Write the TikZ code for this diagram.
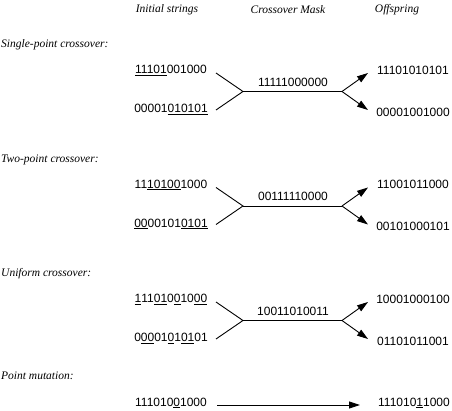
\documentclass[tikz,border=0pt]{standalone}
\usepackage{fontspec}
\setmainfont{Liberation Serif}
\newfontfamily\digitfont{Liberation Sans}
\usetikzlibrary{arrows.meta}
\newcommand\un[1]{\underline{#1}}
\begin{document}
\begin{tikzpicture}[x=1pt,y=-1pt,
  head/.style={font=\fontsize{11.5}{13}\selectfont\itshape, inner sep=0pt},
  lab/.style={font=\fontsize{11.5}{13}\selectfont\itshape, anchor=west, inner sep=0pt},
  bits/.style={font=\fontsize{12}{14}\digitfont, inner sep=0pt},
  conn/.style={line width=0.9pt, black},
  arr/.style={line width=0.9pt, black, -{Triangle[length=11pt,width=7pt]}}]
\useasboundingbox (0,0) rectangle (452,411);
% headers
\node[head] (h1) at (167,10) {Initial strings};
\node[head] (h2) at (288,10) {Crossover Mask};
\node[head] (h3) at (397,10) {Offspring};
% section labels
\node[lab] (l1) at (1,45) {Single-point crossover:};
\node[lab] (l2) at (1,160) {Two-point crossover:};
\node[lab] (l3) at (1,274) {Uniform crossover:};
\node[lab] (l4) at (1,376) {Point mutation:};
% ---------- single point
\node[bits] (s1a) at (171,70.5) {\un{11101}001000};
\node[bits] (s1b) at (171,109.5) {00001\un{010101}};
\node[bits] (m1) at (293,82) {11111000000};
\node[bits] (o1a) at (413,70) {11101010101};
\node[bits] (o1b) at (413,112) {00001001000};
\coordinate (a1) at (216,73);
\coordinate (b1) at (216,110);
\coordinate (j1) at (243,91.5);
\coordinate (k1) at (342,91.5);
\coordinate (p1) at (368,73);
\coordinate (q1) at (368,110);
\draw[conn] (a1) -- (j1) -- (b1);
\draw[conn] (j1) -- (k1);
\draw[arr] (k1) -- (p1);
\draw[arr] (k1) -- (q1);
% ---------- two point
\node[bits] (s2a) at (171,185) {11\un{10100}1000};
\node[bits] (s2b) at (171,224) {\un{00}00101\un{0101}};
\node[bits] (m2) at (293,196.5) {00111110000};
\node[bits] (o2a) at (413,184.5) {11001011000};
\node[bits] (o2b) at (413,226.5) {00101000101};
\coordinate (a2) at (216,187.5);
\coordinate (b2) at (216,224.5);
\coordinate (j2) at (243,206);
\coordinate (k2) at (342,206);
\coordinate (p2) at (368,187.5);
\coordinate (q2) at (368,224.5);
\draw[conn] (a2) -- (j2) -- (b2);
\draw[conn] (j2) -- (k2);
\draw[arr] (k2) -- (p2);
\draw[arr] (k2) -- (q2);
% ---------- uniform
\node[bits] (s3a) at (171,299.5) {\un{1}11\un{01}0\un{0}10\un{00}};
\node[bits] (s3b) at (171,338.5) {0\un{00}01\un{0}1\un{01}01};
\node[bits] (m3) at (293,311) {10011010011};
\node[bits] (o3a) at (413,299) {10001000100};
\node[bits] (o3b) at (413,341) {01101011001};
\coordinate (a3) at (216,302);
\coordinate (b3) at (216,339);
\coordinate (j3) at (243,320.5);
\coordinate (k3) at (342,320.5);
\coordinate (p3) at (368,302);
\coordinate (q3) at (368,339);
\draw[conn] (a3) -- (j3) -- (b3);
\draw[conn] (j3) -- (k3);
\draw[arr] (k3) -- (p3);
\draw[arr] (k3) -- (q3);
% ---------- point mutation
\node[bits] (s4) at (171,403) {111010\un{0}1000};
\node[bits] (o4) at (414,403) {111010\un{1}1000};
\coordinate (a4) at (217,405);
\coordinate (p4) at (360,405);
\draw[arr] (a4) -- (p4);
\end{tikzpicture}
\end{document}
